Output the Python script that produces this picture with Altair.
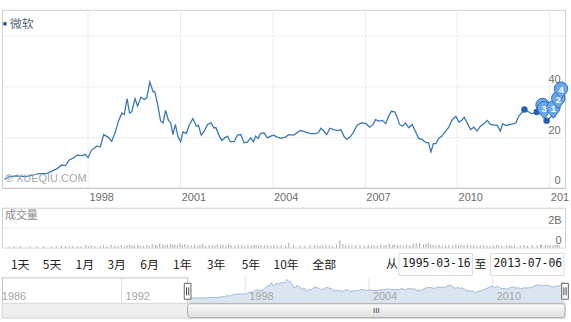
import altair as alt
import pandas as pd

# ---------------- data ----------------
years = [
    1995.28, 1995.44, 1995.65, 1995.97, 1996.19, 1996.41, 1996.68, 1996.84, 1997.00, 1997.14,
    1997.27, 1997.38, 1997.54, 1997.65, 1997.81, 1997.91, 1998.00, 1998.11, 1998.29, 1998.40,
    1998.51, 1998.65, 1998.77, 1998.88, 1998.99, 1999.10, 1999.18, 1999.27, 1999.35, 1999.42,
    1999.53, 1999.61, 1999.72, 1999.83, 1999.91, 2000.01, 2000.12, 2000.17, 2000.26, 2000.36,
    2000.44, 2000.52, 2000.62, 2000.69, 2000.76, 2000.84, 2000.93, 2001.01, 2001.09, 2001.19,
    2001.30, 2001.41, 2001.52, 2001.59, 2001.68, 2001.78, 2001.89, 2002.00, 2002.09, 2002.16,
    2002.27, 2002.35, 2002.45, 2002.54, 2002.62, 2002.75, 2002.86, 2002.97, 2003.07, 2003.18,
    2003.29, 2003.38, 2003.45, 2003.53, 2003.61, 2003.72, 2003.83, 2003.94, 2004.04, 2004.15,
    2004.28, 2004.42, 2004.53, 2004.69, 2004.90, 2005.06, 2005.23, 2005.39, 2005.49, 2005.57,
    2005.65, 2005.76, 2005.87, 2005.98, 2006.11, 2006.22, 2006.32, 2006.41, 2006.52, 2006.62,
    2006.75, 2006.89, 2007.03, 2007.16, 2007.27, 2007.35, 2007.46, 2007.57, 2007.68, 2007.75,
    2007.86, 2007.97, 2008.04, 2008.13, 2008.22, 2008.32, 2008.43, 2008.54, 2008.65, 2008.75,
    2008.86, 2008.99, 2009.07, 2009.15, 2009.23, 2009.31, 2009.40, 2009.51, 2009.61, 2009.72,
    2009.83, 2009.96, 2010.06, 2010.15, 2010.23, 2010.33, 2010.44, 2010.55, 2010.65, 2010.76,
    2010.87, 2010.98, 2011.09, 2011.19, 2011.30, 2011.41, 2011.48, 2011.59, 2011.73, 2011.84,
    2011.91, 2012.00, 2012.19, 2012.32, 2012.43, 2012.59, 2012.75, 2012.86, 2012.91, 2013.02,
    2013.10, 2013.18, 2013.27, 2013.35, 2013.42, 2013.48,
]
prices = [
    3.4, 4.3, 4.7, 4.4, 5.0, 5.6, 5.7, 6.7, 7.6, 9.0,
    8.8, 10.9, 11.9, 12.9, 12.7, 13.2, 11.9, 14.8, 16.5, 16.1,
    21.0, 20.0, 18.4, 21.7, 26.3, 29.5, 28.9, 35.2, 29.5, 30.0,
    35.2, 32.2, 35.7, 34.8, 35.5, 41.7, 37.8, 38.0, 33.1, 26.3,
    25.6, 30.5, 26.5, 25.6, 21.0, 25.0, 20.0, 18.2, 22.1, 21.4,
    25.0, 27.3, 24.3, 24.7, 20.8, 22.4, 25.0, 25.6, 23.7, 23.7,
    20.4, 18.7, 19.7, 20.4, 18.2, 18.2, 20.8, 21.0, 17.8, 18.0,
    19.7, 18.2, 20.4, 19.5, 21.4, 21.7, 19.7, 20.4, 20.8, 20.0,
    19.5, 20.0, 21.0, 20.8, 22.6, 22.1, 21.4, 21.4, 21.7, 23.5,
    22.6, 21.0, 23.5, 23.0, 22.6, 23.0, 20.4, 19.1, 20.0, 21.7,
    24.7, 25.6, 25.4, 23.9, 25.0, 26.9, 26.3, 26.6, 25.3, 27.6,
    30.2, 30.0, 28.2, 25.0, 24.3, 25.6, 23.7, 25.0, 22.1, 19.5,
    19.1, 17.8, 17.8, 14.2, 17.4, 17.4, 19.5, 20.4, 22.1, 23.7,
    26.6, 28.2, 25.9, 26.6, 27.8, 25.6, 23.0, 23.9, 22.4, 24.3,
    25.3, 26.6, 25.0, 24.7, 24.7, 22.4, 25.3, 24.6, 25.0, 25.3,
    25.6, 28.2, 30.9, 30.0, 29.2, 30.0, 28.9, 27.6, 26.6, 27.6,
    28.6, 28.2, 30.5, 33.5, 36.7, 35.8,
]
volumes_b = [
    .10, .12, .15, .10, .12, .14, .10, .12, .20, .15,
    .12, .18, .14, .12, .25, .15, .20, .14, .18, .22,
    .15, .28, .20, .18, .25, .15, .22, .30, .18, .20,
    .25, .18, .15, .22, .20, .35, .25, .18, .40, .30,
    .22, .28, .35, .25, .30, .22, .40, .28, .35, .25,
    .22, .30, .18, .25, .35, .20, .22, .25, .18, .30,
    .22, .28, .20, .35, .25, .20, .28, .22, .18, .25,
    .20, .30, .22, .18, .25, .20, .22, .18, .25, .20,
    .22, .18, .45, .25, .20, .18, .22, .25, .20, .18,
    .22, .25, .20, .18, .28, .70, .35, .25, .22, .20,
    .25, .22, .18, .25, .20, .22, .18, .28, .20, .25,
    .35, .28, .30, .22, .25, .20, .28, .22, .35, .40,
    .45, .30, .35, .50, .30, .25, .22, .28, .20, .22,
    .25, .20, .30, .22, .28, .25, .30, .22, .20, .18,
    .22, .25, .20, .18, .22, .25, .20, .18, .22, .20,
    .18, .22, .20, .25, .18, .22, .20, .25, .28, .22,
    .20, .25, .22, .30, .28, .20,
]

x_ticks = [1998, 2001, 2004, 2007, 2010, 2013]
y_ticks = [0, 20, 40, 60]
vol_ticks = [0, 2]
nav_ticks = [1986, 1992, 1998, 2004, 2010]
nav_grid = [1992, 1998, 2004, 2010]
nav_start = 1986.2
range_start = 1995.203   # 1995-03-16
range_end = 2013.51      # 2013-07-06
range_from_text = "1995-03-16"
range_to_text = "2013-07-06"
series_name = "微软"
watermark = "© XUEQIU.COM"
volume_title = "成交量"
buttons = ["1天", "5天", "1月", "3月", "6月", "1年", "3年", "5年", "10年", "全部"]
flag_text = ["", "3", "1", "2", "4"]
flag_years = [2012.78, 2012.83, 2013.13, 2013.29, 2013.38]
flag_values = [32.6, 31.3, 31.5, 35.2, 39.0]
dot_years = [2012.19, 2012.59, 2012.91]
dot_values = [30.9, 29.9, 26.5]

# ---------------- layout / style ----------------
W = 566
MAIN_H, GAP_H, VOL_H, BTN_H, NAV_H, SCR_H = 179, 20, 40, 30, 26, 15
btn_x = [9, 41, 74, 106, 139, 172, 206, 241, 273, 312]
GRAY = "#6d6d6d"
LAT = "Liberation Sans"
CJK = "Noto Sans CJK SC"
PIN = "M0,0.85 L-0.33,0.42 A0.55,0.55 0 1 1 0.33,0.42 Z"
HANDLE = "M-0.42,-1 L0.42,-1 L0.42,1 L-0.42,1 Z"
GRIP = "M-0.14,-0.5 L-0.14,0.5 M0.14,-0.5 L0.14,0.5"
no_border = alt.ViewBackground(stroke="transparent")
border = alt.ViewBackground(stroke="#cfcfcf")

price_df = pd.DataFrame({"year": years, "price": prices})
vol_df = pd.DataFrame({"year": years, "vol": volumes_b})
flag_df = pd.DataFrame({"year": flag_years, "price": flag_values, "t": flag_text})
dot_df = pd.DataFrame({"year": dot_years, "price": dot_values})
sel_df = pd.DataFrame({"start": [range_start], "end": [range_end]})
sel_df["mid"] = (sel_df["start"] + sel_df["end"]) / 2

xs_main = alt.Scale(domain=[range_start, range_end], nice=False, zero=False)
ys_main = alt.Scale(domain=[0, 70.2], nice=False)
xs_nav = alt.Scale(domain=[nav_start, range_end], nice=False, zero=False)
ys_nav = alt.Scale(domain=[-6, 46], nice=False)

# ---------------- main price panel ----------------
# the last year label is cut by the page edge in the reference ("201")
x_axis = alt.Axis(values=x_ticks, format="d", grid=True, gridColor="#eeeeee",
                  domain=True, domainColor="#c0c0c0", ticks=False, tickSize=0,
                  labelAlign="left", labelBaseline="top", labelPadding=4, labelOffset=1,
                  labelColor=GRAY, labelFont=LAT, labelFontSize=11,
                  labelFlush=False, labelOverlap=False, title=None,
                  labelExpr="datum.value == 2013 ? '201' : datum.label")
y_axis = alt.Axis(orient="right", values=y_ticks, grid=True, gridColor="#eeeeee",
                  domain=False, ticks=False, tickSize=0, labelAlign="right",
                  labelBaseline="alphabetic", labelPadding=-5, labelOffset=-4,
                  labelColor=GRAY, labelFont=LAT, labelFontSize=11,
                  labelExpr="datum.value == 60 ? '' : datum.label", title=None)

xm = alt.X("year:Q", scale=xs_main, axis=x_axis)
ym = alt.Y("price:Q", scale=ys_main, axis=y_axis)
line = alt.Chart(price_df).mark_line(color="#3a78b8", strokeWidth=1.3).encode(x=xm, y=ym)
dots = alt.Chart(dot_df).mark_circle(size=42, color="#1f62b0", opacity=1).encode(x=xm, y=ym)
pins = alt.Chart(flag_df).mark_point(shape=PIN, size=600, filled=True, fill="#6aa8ea",
                                     stroke="#2f6db5", strokeWidth=1, opacity=1).encode(x=xm, y=ym)
pin_text = alt.Chart(flag_df).mark_text(color="white", font=LAT, fontSize=9.5, fontWeight="bold",
                                        align="center", baseline="middle", dy=1).encode(x=xm, y=ym, text="t:N")
leg_dot = alt.Chart(pd.DataFrame({"t": [series_name]})).mark_circle(size=16, color="#2c5f9a", opacity=1).encode(
    x=alt.value(3), y=alt.value(14))
leg_text = alt.Chart(pd.DataFrame({"t": [series_name]})).mark_text(
    align="left", baseline="middle", font=CJK, fontSize=12, color="#5a6470").encode(
    x=alt.value(8), y=alt.value(14), text="t:N")
wm = alt.Chart(pd.DataFrame({"t": [watermark]})).mark_text(
    align="left", baseline="middle", font=LAT, fontSize=11, color="#a8a8a8").encode(
    x=alt.value(3), y=alt.value(170), text="t:N")

main = alt.layer(line, dots, pins, pin_text, leg_dot, leg_text, wm).properties(
    width=W, height=MAIN_H, view=border)

spacer = alt.Chart(pd.DataFrame({"t": [""]})).mark_text().encode(text="t:N").properties(
    width=W, height=GAP_H, view=no_border)

# ---------------- volume panel ----------------
vol_axis = alt.Axis(orient="right", values=vol_ticks, grid=True, gridColor="#eeeeee",
                    domain=False, ticks=False, tickSize=0, labelAlign="right",
                    labelBaseline="alphabetic", labelPadding=-4, labelOffset=-4,
                    labelColor=GRAY, labelFont=LAT, labelFontSize=11,
                    labelExpr="datum.value == 0 ? '0' : datum.value + 'B'", title=None)
bars = alt.Chart(vol_df).mark_bar(width=1, color="#a3a3a3").encode(
    x=alt.X("year:Q", scale=xs_main, axis=None),
    y=alt.Y("vol:Q", scale=alt.Scale(domain=[0, 4], nice=False), axis=vol_axis))
vtitle = alt.Chart(pd.DataFrame({"t": [volume_title]})).mark_text(
    align="left", baseline="middle", font=CJK, fontSize=11, color="#8a8a8a").encode(
    x=alt.value(3), y=alt.value(8), text="t:N")
volume = alt.layer(bars, vtitle).properties(width=W, height=VOL_H, view=border)

# ---------------- range buttons / inputs ----------------
btn_df = pd.DataFrame({"label": buttons, "px": btn_x})
btn_text = alt.Chart(btn_df).mark_text(align="left", baseline="middle", font=CJK,
                                       fontSize=12, color="#222222").encode(
    x=alt.X("px:Q", scale=None, axis=None), y=alt.value(18), text="label:N")
box_df = pd.DataFrame({"x0": [399, 491], "x1": [473, 565]})
boxes = alt.Chart(box_df).mark_rect(fill="white", stroke="#dcdcdc", strokeWidth=1).encode(
    x=alt.X("x0:Q", scale=None, axis=None), x2="x1:Q", y=alt.value(6), y2=alt.value(28))
date_df = pd.DataFrame({"t": [range_from_text, range_to_text], "px": [402, 494]})
date_text = alt.Chart(date_df).mark_text(align="left", baseline="middle", font="DejaVu Sans Mono",
                                         fontSize=11.5, color="#222222").encode(
    x=alt.X("px:Q", scale=None, axis=None), y=alt.value(17), text="t:N")
word_df = pd.DataFrame({"t": ["从", "至"], "px": [386, 475]})
word_text = alt.Chart(word_df).mark_text(align="left", baseline="middle", font=CJK,
                                         fontSize=12, color="#222222").encode(
    x=alt.X("px:Q", scale=None, axis=None), y=alt.value(17), text="t:N")
btn_panel = alt.layer(btn_text, boxes, date_text, word_text).properties(
    width=W, height=BTN_H, view=no_border)

# ---------------- navigator ----------------
xn = alt.X("year:Q", scale=xs_nav, axis=None)
nav_rules = alt.Chart(pd.DataFrame({"year": nav_grid})).mark_rule(color="#e4e4e4").encode(
    x=xn, y=alt.value(0), y2=alt.value(NAV_H))
nav_area = alt.Chart(price_df).mark_area(color="#dbe5f1", opacity=1,
                                         line={"color": "#9fb9d8", "strokeWidth": 1}).encode(
    x=xn, y=alt.Y("price:Q", scale=ys_nav, axis=None), y2=alt.datum(-6))
nav_labels = alt.Chart(pd.DataFrame({"year": nav_ticks})).mark_text(
    align="left", baseline="middle", dx=4, font=LAT, fontSize=11, color="#a6a6a6").encode(
    x=xn, y=alt.value(20), text=alt.Text("year:Q", format="d"))
sx = alt.X("start:Q", scale=xs_nav, axis=None)
outline_top = alt.Chart(pd.DataFrame({"a": [nav_start], "b": [range_start]})).mark_rule(
    color="#c4c4c4").encode(x=alt.X("a:Q", scale=xs_nav, axis=None), x2="b:Q", y=alt.value(0.5))
outline_v = alt.Chart(sel_df).mark_rule(color="#c4c4c4").encode(
    x=sx, y=alt.value(0), y2=alt.value(NAV_H))
outline_l = alt.Chart(sel_df).mark_rule(color="#c4c4c4").encode(
    x=alt.value(0.5), y=alt.value(0), y2=alt.value(NAV_H))
hdl_df = pd.DataFrame({"year": [range_start, range_end]})
handles = alt.Chart(hdl_df).mark_point(shape=HANDLE, size=256, filled=True, fill="white",
                                       stroke="#666666", strokeWidth=1, opacity=1).encode(
    x=xn, y=alt.value(14))
grips = alt.Chart(hdl_df).mark_point(shape=GRIP, size=256, filled=False, stroke="#444444",
                                     strokeWidth=1, opacity=1).encode(x=xn, y=alt.value(14))
nav = alt.layer(nav_rules, nav_area, nav_labels, outline_top, outline_v, outline_l,
                handles, grips).properties(width=W, height=NAV_H, view=no_border)

# ---------------- scrollbar ----------------
track = alt.Chart(sel_df).mark_rect(fill="#eeeeee", stroke="#d6d6d6").encode(
    x=alt.value(0), x2=alt.value(W), y=alt.value(0), y2=alt.value(SCR_H))
thumb = alt.Chart(sel_df).mark_rect(
    cornerRadius=3, stroke="#a9a9a9", strokeWidth=1,
    fill=alt.Gradient(gradient="linear", x1=0, x2=0, y1=0, y2=1,
                      stops=[alt.GradientStop(color="#fbfbfb", offset=0),
                             alt.GradientStop(color="#dedede", offset=1)])).encode(
    x=sx, x2="end:Q", y=alt.value(0.5), y2=alt.value(SCR_H - 0.5))
grip_text = alt.Chart(sel_df).mark_text(text="III", font=LAT, fontSize=8, color="#333333",
                                        baseline="middle", align="center").encode(
    x=alt.X("mid:Q", scale=xs_nav, axis=None), y=alt.value(SCR_H / 2))
scroll = alt.layer(track, thumb, grip_text).properties(width=W, height=SCR_H, view=no_border)

chart = alt.vconcat(main, spacer, volume, btn_panel, nav, scroll, spacing=0, bounds="flush").properties(
    padding={"left": 1, "top": 8, "right": 0, "bottom": 0}
).configure(font=LAT).configure_view(strokeWidth=1)

chart.save("out.html", embed_options={"renderer": "svg", "actions": False})
